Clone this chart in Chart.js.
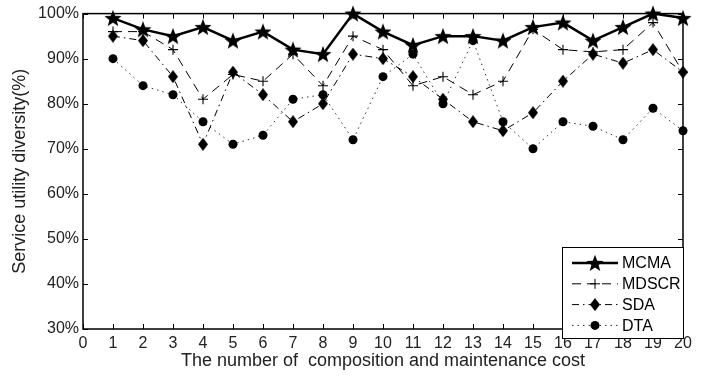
<!DOCTYPE html>
<html>
<head>
<meta charset="utf-8">
<script src="https://cdn.jsdelivr.net/npm/chart.js@4/dist/chart.umd.min.js"></script>
<style>
  html, body { margin: 0; padding: 0; background: #fff; }
  canvas { display: block; }
</style>
</head>
<body>
<canvas id="chart" width="713" height="376"></canvas>
<script>
// Data
const categories = [1, 2, 3, 4, 5, 6, 7, 8, 9, 10, 11, 12, 13, 14, 15, 16, 17, 18, 19, 20];
const mcma  = [99, 96.5, 95, 97, 94, 96, 92, 91, 100, 96, 93, 95, 95, 94, 97, 98, 94, 97, 100, 99];
const mdscr = [96, 96, 92, 81, 86.5, 85, 91, 84, 95, 92, 84, 86, 82, 85, 96.5, 92, 91.5, 92, 98, 87];
const sda   = [95, 94, 86, 71, 87, 82, 76, 80, 91, 90, 86, 81, 76, 74, 78, 85, 91, 89, 92, 87];
const dta   = [90, 84, 82, 76, 71, 73, 81, 82, 72, 86, 91, 80, 94, 76, 70, 76, 75, 72, 79, 74];
const xTicks = [0, 1, 2, 3, 4, 5, 6, 7, 8, 9, 10, 11, 12, 13, 14, 15, 16, 17, 18, 19, 20];
const yTicks = [30, 40, 50, 60, 70, 80, 90, 100];
const seriesNames = ['MCMA', 'MDSCR', 'SDA', 'DTA'];

const FONT = '"Liberation Sans", Arial, sans-serif';

// ─── Marker images ────────────────────────────────────────────────────────────
function makeStar(size) {
  const c = document.createElement('canvas');
  c.width = c.height = size;
  const g = c.getContext('2d');
  const cx = size / 2, cy = size / 2 + 0.8, R = size / 2, r = R * 0.42;
  g.beginPath();
  for (let i = 0; i < 10; i++) {
    const rad = i % 2 === 0 ? R : r;
    const a = -Math.PI / 2 + i * Math.PI / 5;
    g.lineTo(cx + rad * Math.cos(a), cy + rad * Math.sin(a));
  }
  g.closePath();
  g.fillStyle = '#000';
  g.fill();
  return c;
}

function makeDiamond(w, h) {
  const c = document.createElement('canvas');
  c.width = w; c.height = h;
  const g = c.getContext('2d');
  g.beginPath();
  g.moveTo(w / 2, 0);
  g.lineTo(w, h / 2);
  g.lineTo(w / 2, h);
  g.lineTo(0, h / 2);
  g.closePath();
  g.fillStyle = '#000';
  g.fill();
  return c;
}

const starImg = makeStar(18);
const diamondImg = makeDiamond(10, 13);

const toPoints = vals => categories.map((c, i) => ({ x: c, y: vals[i] }));

// ─── Plugins ──────────────────────────────────────────────────────────────────
const framePlugin = {
  id: 'frame',
  beforeDatasetsDraw(chart) {
    const { ctx, chartArea: a, scales: { x, y } } = chart;
    ctx.save();
    ctx.strokeStyle = '#000';
    ctx.lineWidth = 1;
    ctx.beginPath();
    xTicks.forEach(v => {
      const px = Math.round(x.getPixelForValue(v)) + 0.5;
      ctx.moveTo(px, a.bottom); ctx.lineTo(px, a.bottom - 5);
      ctx.moveTo(px, a.top); ctx.lineTo(px, a.top + 5);
    });
    yTicks.forEach(v => {
      const py = Math.round(y.getPixelForValue(v)) + 0.5;
      ctx.moveTo(a.left, py); ctx.lineTo(a.left + 5, py);
      ctx.moveTo(a.right, py); ctx.lineTo(a.right - 5, py);
    });
    ctx.stroke();
    ctx.lineWidth = 1.5;
    ctx.strokeRect(a.left, a.top, a.right - a.left, a.bottom - a.top);
    ctx.restore();
  }
};

const legendPlugin = {
  id: 'boxLegend',
  afterDraw(chart) {
    const { ctx, chartArea: a } = chart;
    const box = { left: 562, top: 247, right: a.right, bottom: 338 };
    ctx.save();
    ctx.fillStyle = '#fff';
    ctx.fillRect(box.left, box.top, box.right - box.left, box.bottom - box.top);
    ctx.strokeStyle = '#000';
    ctx.lineWidth = 1;
    ctx.strokeRect(box.left + 0.5, box.top + 0.5, box.right - box.left, box.bottom - box.top);
    chart.data.datasets.forEach((ds, i) => {
      const yy = 263 + i * 20.8;
      ctx.save();
      ctx.strokeStyle = ds.borderColor;
      ctx.lineWidth = ds.borderWidth;
      ctx.setLineDash(ds.borderDash || []);
      ctx.beginPath();
      ctx.moveTo(572, yy); ctx.lineTo(618, yy);
      ctx.stroke();
      ctx.restore();
      ctx.setLineDash([]);
      ctx.fillStyle = '#000';
      ctx.strokeStyle = '#000';
      Chart.helpers.drawPoint(ctx, {
        pointStyle: ds.pointStyle,
        radius: ds.pointRadius,
        borderWidth: ds.pointBorderWidth,
        rotation: 0
      }, 595, yy);
      ctx.fillStyle = '#000';
      ctx.font = '16px ' + FONT;
      ctx.textBaseline = 'middle';
      ctx.textAlign = 'left';
      ctx.fillText(ds.label, 622, yy + 1);
    });
    ctx.restore();
  }
};

// ─── Chart ────────────────────────────────────────────────────────────────────
new Chart(document.getElementById('chart'), {
  type: 'line',
  data: {
    datasets: [
      { label: seriesNames[0], data: toPoints(mcma), borderColor: '#000', backgroundColor: '#000',
        borderWidth: 2.5, pointStyle: starImg, pointRadius: 9, pointBorderWidth: 0 },
      { label: seriesNames[1], data: toPoints(mdscr), borderColor: '#000', backgroundColor: '#000',
        borderWidth: 1, borderDash: [9, 6], pointStyle: 'cross', pointRadius: 5, pointBorderWidth: 1.1,
        pointBorderColor: '#000' },
      { label: seriesNames[2], data: toPoints(sda), borderColor: '#000', backgroundColor: '#000',
        borderWidth: 1, borderDash: [7, 4, 1.5, 4], pointStyle: diamondImg, pointRadius: 6, pointBorderWidth: 0 },
      { label: seriesNames[3], data: toPoints(dta), borderColor: '#333', backgroundColor: '#000',
        borderWidth: 1, borderDash: [1.5, 4], pointStyle: 'circle', pointRadius: 4.5, pointBorderWidth: 0,
        pointBackgroundColor: '#000' },
    ]
  },
  options: {
    responsive: false,
    animation: false,
    devicePixelRatio: 1,
    layout: { padding: { left: 0, top: 12, right: 30, bottom: 0 } },
    plugins: { legend: { display: false }, tooltip: { enabled: false } },
    elements: { line: { tension: 0, fill: false } },
    datasets: { line: { clip: false } },
    scales: {
      x: {
        type: 'linear', min: xTicks[0], max: xTicks[xTicks.length - 1],
        grid: { display: false, drawTicks: false }, border: { display: false },
        ticks: { stepSize: 1, autoSkip: false, maxRotation: 0, padding: 5, color: '#222',
                 font: { size: 16, family: FONT } },
        title: { display: true, text: 'The number of  composition and maintenance cost', color: '#222',
                 font: { size: 18, family: FONT }, padding: { top: 0, bottom: 4 } },
        afterFit: s => { s.height = 47; }
      },
      y: {
        min: yTicks[0], max: yTicks[yTicks.length - 1],
        grid: { display: false, drawTicks: false }, border: { display: false },
        ticks: { stepSize: 10, padding: 4, color: '#222', callback: v => v + '%',
                 font: { size: 16, family: FONT } },
        title: { display: true, text: 'Service utility diversity(%)', color: '#222',
                 font: { size: 18, family: FONT }, padding: { top: 9, bottom: 0 } },
        afterFit: s => { s.width = 83; }
      }
    }
  },
  plugins: [framePlugin, legendPlugin]
});
</script>
</body>
</html>
